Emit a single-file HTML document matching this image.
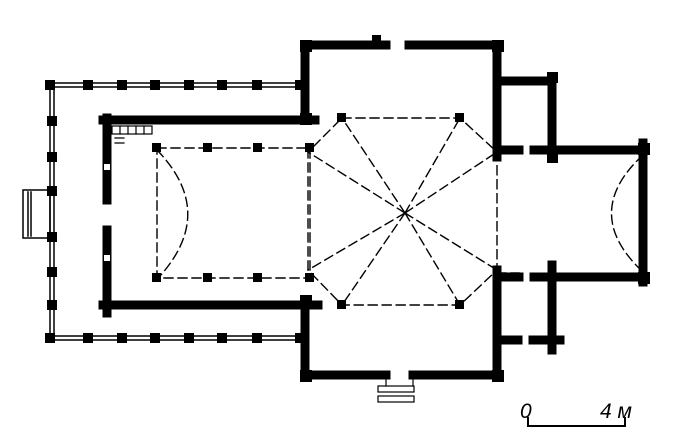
<!DOCTYPE html>
<html><head><meta charset="utf-8"><style>html,body{margin:0;padding:0;background:#fff}svg{display:block}</style></head>
<body>
<svg width="673" height="444" viewBox="0 0 673 444" xmlns="http://www.w3.org/2000/svg">
<g fill="none" stroke="#000" stroke-linecap="square">
<g stroke-width="1.5">
<path d="M50 83 H305 M50 87 H305"/>
<path d="M50 336 H305 M50 340 H305"/>
<path d="M50 85 V338 M54 85 V338"/>
<rect x="23" y="190" width="27" height="48"/>
<path d="M28 192 V236 M31 192 V236"/>
</g>
<g stroke-width="9">
<path d="M305 45 V118 M305 45 H386 M409 45 H497 V157"/>
<path d="M103 120 H315 M107 118 V200 M107 230 V313 M103 305 H318"/>
<path d="M305 300 V375 H386 M413 375 H497 V270"/>
<path d="M497 81 H552 M552 77 V157 M497 150 H519 M534 150 H645 M643 143 V282 M497 277 H519 M534 277 H645"/>
<path d="M552 265 V350 M497 340 H518 M533 340 H560"/>
</g>
<g stroke-width="1.4" stroke-dasharray="9,5">
<path d="M157 148 H310 V278 H157 Z"/>
<path d="M157 150 Q217 212 160 276"/>
<path d="M342 118 H460 L497 152 V270 L460 305 H342 L308 270 V152 Z"/>
<path d="M405 213 L342 118 M405 213 L460 118 M405 213 L497 152 M405 213 L497 270 M405 213 L460 305 M405 213 L342 305 M405 213 L308 270 M405 213 L308 152"/>
<path d="M643 155 Q580 213 643 272"/>
<path d="M497 152 H519 M497 273 H519"/>
</g>
<g stroke-width="1.2">
<rect x="378" y="386" width="36" height="6"/><rect x="378" y="396" width="36" height="6"/>
<path d="M386 378 V386 M413 378 V386"/>
<rect x="112" y="126" width="40" height="8"/><path d="M115 138 H124 M115 143 H124 M120 126 V134 M128 126 V134 M136 126 V134 M144 126 V134"/>
</g>
<path d="M528 418 V426 H625 V418" stroke-width="2"/>
</g>
<g fill="#000">
<g transform="translate(-5,-5)">
<rect x="50" y="85" width="10" height="10"/><rect x="88" y="85" width="10" height="10"/><rect x="122" y="85" width="10" height="10"/><rect x="155" y="85" width="10" height="10"/><rect x="189" y="85" width="10" height="10"/><rect x="222" y="85" width="10" height="10"/><rect x="257" y="85" width="10" height="10"/><rect x="300" y="85" width="10" height="10"/>
<rect x="50" y="338" width="10" height="10"/><rect x="88" y="338" width="10" height="10"/><rect x="122" y="338" width="10" height="10"/><rect x="155" y="338" width="10" height="10"/><rect x="189" y="338" width="10" height="10"/><rect x="222" y="338" width="10" height="10"/><rect x="257" y="338" width="10" height="10"/><rect x="300" y="338" width="10" height="10"/>
<rect x="52" y="121" width="10" height="10"/><rect x="52" y="157" width="10" height="10"/><rect x="52" y="191" width="10" height="10"/><rect x="52" y="237" width="10" height="10"/><rect x="52" y="272" width="10" height="10"/><rect x="52" y="305" width="10" height="10"/>
<rect x="157" y="148" width="9" height="9"/><rect x="208" y="148" width="9" height="9"/><rect x="258" y="148" width="9" height="9"/><rect x="310" y="148" width="9" height="9"/>
<rect x="157" y="278" width="9" height="9"/><rect x="208" y="278" width="9" height="9"/><rect x="258" y="278" width="9" height="9"/><rect x="310" y="278" width="9" height="9"/>
<rect x="342" y="118" width="9" height="9"/><rect x="460" y="118" width="9" height="9"/><rect x="342" y="305" width="9" height="9"/><rect x="460" y="305" width="9" height="9"/>
<rect x="305" y="45" width="12" height="12"/><rect x="377" y="40" width="9" height="9"/><rect x="497" y="45" width="12" height="12"/><rect x="305" y="375" width="12" height="12"/><rect x="497" y="375" width="12" height="12"/>
<rect x="552" y="77" width="11" height="11"/><rect x="552" y="157" width="11" height="11"/><rect x="643" y="148" width="12" height="12"/><rect x="643" y="277" width="12" height="12"/>
<rect x="305" y="118" width="12" height="12"/><rect x="305" y="300" width="12" height="12"/>
</g>
</g>
<g fill="#fff"><rect x="104" y="164" width="6" height="6"/><rect x="104" y="255" width="6" height="6"/></g>
<text x="520" y="418" font-family="Liberation Sans, sans-serif" font-style="italic" font-size="21" fill="#000">0</text>
<text x="600" y="418" font-family="Liberation Sans, sans-serif" font-style="italic" font-size="21" fill="#000">4 м</text>
</svg>
</body></html>
